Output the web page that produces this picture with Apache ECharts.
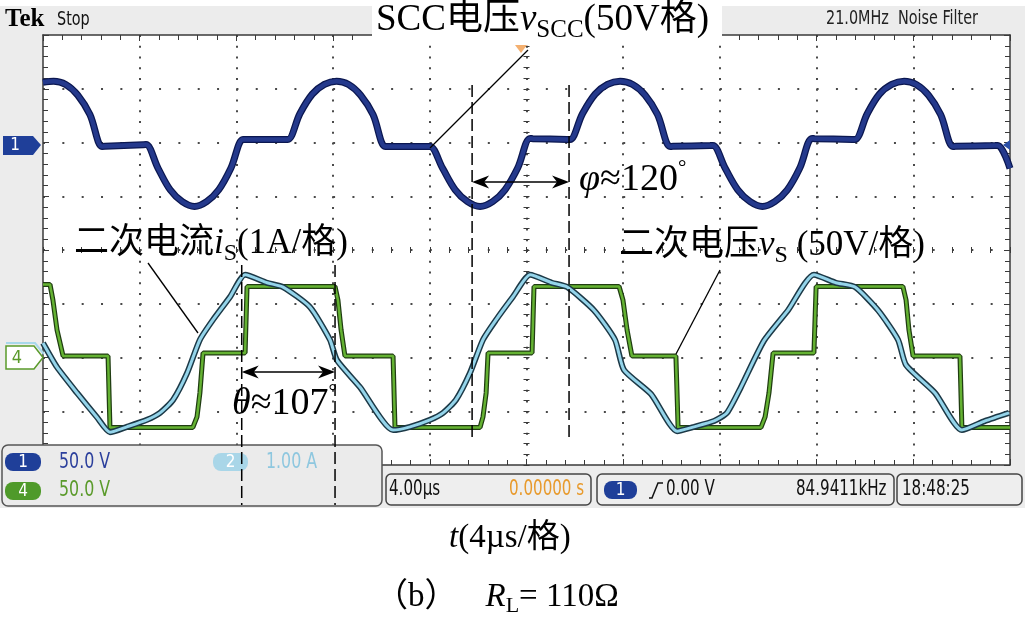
<!DOCTYPE html>
<html><head><meta charset="utf-8">
<script src="https://cdn.jsdelivr.net/npm/echarts@6/dist/echarts.min.js"></script>
<style>
html,body{margin:0;padding:0;background:#fff}
#c{width:1025px;height:617px;background:linear-gradient(#fff 0,#fff 6px,#ececec 6px,#ececec 508px,#fff 508px)}
</style>
</head><body><div id="c"></div>
<script>
// ---- data (time in µs, 4 µs/div) ----
// channel 1: SCC voltage v_SCC (V)
const ch1Time = [0,0.44,0.94,1.44,1.94,2.44,2.56,
  4.14,4.26,4.76,5.26,5.76,6.27,6.77,7.27,7.77,8.27,8.39,
  10.01,10.13,10.63,11.14,11.64,12.14,12.64,13.14,13.65,14.15,14.27,
  15.89,16.01,16.53,17.05,17.56,18.08,18.60,19.11,19.63,20.15,20.27,
  21.68,21.80,22.32,22.84,23.35,23.87,24.39,24.91,25.42,25.94,26.06,
  27.59,27.71,28.22,28.74,29.25,29.76,30.27,30.79,31.30,31.81,31.93,
  33.47,33.59,34.10,34.60,35.11,35.62,36.12,36.63,37.13,37.64,37.76,
  39.38,39.50,40.00];
const ch1Volt = [56,57,54,44,26,-3.7,-3.6,
  -2.0,-1.9,-24,-44,-55,-59.5,-55,-44,-24,2.8,2.8,
  2.8,2.8,27,45,54,57,54,44,26,-3.7,-3.7,
  -3.7,-3.7,-24,-44,-55,-59.5,-55,-44,-24,3.7,3.6,
  2.9,2.8,27,45,54,57,54,44,26,-3.7,-3.6,
  -2.9,-2.8,-24,-44,-55,-59.5,-55,-44,-24,3.7,3.6,
  2.9,2.8,27,45,54,57,54,44,26,-3.7,-3.6,
  -2.9,-2.8,-24];
// channel 2: secondary current i_S (A)
const ch2Time = [0,0.58,1.41,2.23,2.77,3.47,4.30,4.84,5.38,5.96,6.49,7.03,7.74,8.36,9.27,9.93,11.04,11.87,12.16,13.11,14.48,15.18,16.01,16.55,17.08,17.66,18.20,18.74,19.44,20.15,21.05,21.68,22.79,23.66,24.03,25.15,26.23,26.93,27.76,28.29,28.87,29.82,30.82,31.89,32.80,33.59,34.54,35.37,35.70,36.90,38.01,38.97,39.96];
const ch2Amp  = [0.27,-0.18,-0.66,-1.11,-1.39,-1.29,-1.16,-1.03,-0.79,-0.29,0.33,0.70,1.13,1.54,1.39,1.31,0.94,0.33,-0.05,-0.55,-1.35,-1.29,-1.16,-1.03,-0.79,-0.29,0.33,0.70,1.13,1.54,1.39,1.31,0.88,0.33,-0.23,-0.68,-1.37,-1.29,-1.18,-1.03,-0.55,0.31,0.88,1.54,1.39,1.31,0.88,0.33,-0.14,-0.66,-1.35,-1.18,-1.03];
// channel 4: secondary voltage v_S (V)
const ch4Time = [0,0.29,0.41,0.58,0.83,2.69,2.77,6.20,6.37,6.49,6.62,8.36,8.44,12.08,12.20,12.33,12.49,14.48,14.56,18.08,18.20,18.33,18.41,20.23,20.31,23.83,23.99,24.16,24.36,26.18,26.27,29.70,29.87,30.03,30.20,31.89,31.98,35.57,35.70,35.82,35.99,37.93,38.01,40];
const ch4Volt = [68,68,53.5,25.6,1.4,1.4,-65,-65,-55.3,-33.0,4.2,4.2,66,66,53.5,25.6,1.4,1.4,-65,-65,-55.3,-33.0,4.2,4.2,66,66,53.5,25.6,1.4,1.4,-65,-65,-55.3,-33.0,4.2,4.2,66,66,53.5,25.6,1.4,1.4,-65,-65];
// annotation instants (µs)
const thetaTimes = [8.22, 12.08];
const phiTimes = [17.75, 21.76];
// screen readouts
const ch1Scale = '50.0 V', ch2Scale = '1.00 A', ch4Scale = '50.0 V';
const timeBase = '4.00µs', trigDelay = '0.00000 s', trigLevel = '0.00 V', trigFreq = '84.9411kHz', clock = '18:48:25';

const SERIF = '"Liberation Serif","Times New Roman","Noto Sans CJK SC",serif';
const COND = '"Liberation Sans Narrow","DejaVu Sans Condensed","Liberation Sans",sans-serif';
const NARROW = 0.8;

const chart = echarts.init(document.getElementById('c'), null, {renderer: 'canvas'});
const pair = (t, v) => t.map((x, i) => [x, v[i]]);
const tick = {show: true, inside: true, length: 6, lineStyle: {color: '#3a3a3a', width: 1}};
const minor = {show: true, splitNumber: 5, length: 5, lineStyle: {color: '#3a3a3a', width: 1}};
const edge = {show: true, onZero: false, lineStyle: {color: '#3a3a3a', width: 1.5}};
const noLab = {show: false};

chart.setOption({
  animation: false,
  backgroundColor: 'transparent',
  grid: {left: 43, top: 35, width: 967, height: 430, show: true, backgroundColor: '#fff', borderWidth: 0, outerBoundsMode: 'none'},
  xAxis: [
    {type: 'value', min: 0, max: 40, interval: 4, position: 'bottom', axisLine: edge, axisTick: tick, minorTick: minor, axisLabel: noLab,
     splitLine: {show: true, showMinLine: false, showMaxLine: false, lineStyle: {type: [2, 8.75], color: '#4a4a4a', width: 2}}},
    {type: 'value', min: 0, max: 40, interval: 4, position: 'top', axisLine: edge, axisTick: tick, minorTick: minor, axisLabel: noLab, splitLine: {show: false}},
    {type: 'value', min: 0, max: 40, interval: 4, position: 'bottom', offset: -212, axisLine: {show: false, onZero: false}, axisTick: tick,
     minorTick: {show: true, splitNumber: 5, length: 6, lineStyle: {color: '#3a3a3a', width: 1}}, axisLabel: noLab, splitLine: {show: false}}
  ],
  yAxis: [
    {type: 'value', min: -4, max: 4, interval: 1, position: 'left', axisLine: edge, axisTick: tick, minorTick: minor, axisLabel: noLab,
     splitLine: {show: true, showMinLine: false, showMaxLine: false, lineStyle: {type: [2, 17.34], color: '#4a4a4a', width: 2}}},
    {type: 'value', min: -4, max: 4, interval: 1, position: 'right', axisLine: edge, axisTick: tick, minorTick: minor, axisLabel: noLab, splitLine: {show: false}},
    {type: 'value', min: -4, max: 4, interval: 1, position: 'left', offset: -480.5, axisLine: {show: false, onZero: false}, axisTick: tick,
     minorTick: {show: true, splitNumber: 5, length: 6, lineStyle: {color: '#3a3a3a', width: 1}}, axisLabel: noLab, splitLine: {show: false}},
    {type: 'value', min: -300, max: 100, show: false},
    {type: 'value', min: -2, max: 6, show: false},
    {type: 'value', min: -100, max: 300, show: false}
  ],
  series: [
    {type: 'line', yAxisIndex: 5, data: pair(ch4Time, ch4Volt), symbol: 'none', silent: true, z: 3, lineStyle: {color: '#203d12', width: 5}},
    {type: 'line', yAxisIndex: 5, data: pair(ch4Time, ch4Volt), symbol: 'none', silent: true, z: 4, lineStyle: {color: '#64b232', width: 2.5}},
    {type: 'line', yAxisIndex: 4, data: pair(ch2Time, ch2Amp), symbol: 'none', smooth: 0.2, silent: true, z: 5, lineStyle: {color: '#1c3947', width: 6}},
    {type: 'line', yAxisIndex: 4, data: pair(ch2Time, ch2Amp), symbol: 'none', smooth: 0.2, silent: true, z: 6, lineStyle: {color: '#94d4ea', width: 3}},
    {type: 'line', yAxisIndex: 3, data: pair(ch1Time, ch1Volt), symbol: 'none', smooth: 0.35, silent: true, z: 7, lineStyle: {color: '#0b1750', width: 7}},
    {type: 'line', yAxisIndex: 3, data: pair(ch1Time, ch1Volt), symbol: 'none', smooth: 0.35, silent: true, z: 8, lineStyle: {color: '#24398c', width: 4.5}}
  ]
});

const px = t => chart.convertToPixel({xAxisIndex: 0}, t);
const txt = (x, y, text, opt, sx) => ({type: 'text', x, y, z: 50, silent: true, scaleX: sx || 1, style: Object.assign({text, fill: '#000', align: 'left', verticalAlign: 'middle'}, opt)});
const ctxt = (x, y, text, opt) => txt(x, y, text, Object.assign({fontFamily: COND}, opt), NARROW);
const rect = (x, y, w, h, fill, stroke, r, lw) => ({type: 'rect', z: 48, silent: true, shape: {x, y, width: w, height: h, r: r || 0}, style: {fill, stroke: stroke || null, lineWidth: lw || 1}});
const line = (x1, y1, x2, y2, opt) => ({type: 'line', z: 49, silent: true, shape: {x1, y1, x2, y2}, style: Object.assign({stroke: '#000', lineWidth: 1.3}, opt)});
const poly = (pts, fill, stroke, z) => ({type: 'polygon', z: z || 49, silent: true, shape: {points: pts}, style: {fill, stroke: stroke || null, lineWidth: 1.5}});
const head = (x, y, dir) => poly([[x, y], [x - dir * 17, y - 6.5], [x - dir * 12, y], [x - dir * 17, y + 6.5]], '#000', null, 51);
const badge = (x, y, w, label, fill) => [rect(x, y, w, 18, fill, null, 8), {type: 'text', z: 50, silent: true, x: x + w / 2, y: y + 9.5, style: {text: label, fill: '#fff', align: 'center', verticalAlign: 'middle', fontSize: 17, fontFamily: COND}}];

const R = (fs) => ({
  a: {fontSize: fs, fontFamily: SERIF, verticalAlign: 'middle'},
  i: {fontSize: fs, fontFamily: SERIF, fontStyle: 'italic', verticalAlign: 'middle'},
  s: {fontSize: Math.round(fs * 0.68), fontFamily: SERIF, verticalAlign: 'middle', padding: [Math.round(fs * 0.58), 0, 0, 0]},
  d: {fontSize: Math.round(fs * 0.55), fontFamily: SERIF, verticalAlign: 'middle', padding: [0, 0, Math.round(fs * 0.6), 0]}
});

const tx = thetaTimes.map(px), fx = phiTimes.map(px);
const dash = {lineDash: [12, 5], lineWidth: 1.5};
const g = [
  // top bar texts
  txt(5, 20, '{t|Tek}', {rich: {t: {fontSize: 25, fontWeight: 'bold', fontFamily: SERIF}}}),
  ctxt(57, 20, 'Stop', {fontSize: 20, fill: '#111'}),
  ctxt(826, 19, '21.0MHz  Noise Filter', {fontSize: 20, fill: '#222'}),
  rect(372, 0, 350, 41, '#fff'),
  txt(376, 20, '{a|SCC电压}{i|v}{s|SCC}{a|(50V格)}', {rich: R(37)}),
  // trigger marker
  poly([[515, 45], [527, 45], [521, 53]], '#f4b070', null, 48),
  // channel markers
  poly([[3, 136], [33, 136], [41, 145], [33, 155], [3, 155]], '#1f3f99'),
  {type: 'text', z: 50, silent: true, x: 15, y: 146, style: {text: '1', fill: '#fff', fontSize: 17, fontFamily: COND, align: 'center', verticalAlign: 'middle'}},
  poly([[1003, 145], [1010, 140], [1010, 150]], '#2a4fa8'),
  {type: 'polyline', z: 48, silent: true, shape: {points: [[6, 343], [35, 343], [44, 354]]}, style: {stroke: '#a8d8ea', lineWidth: 2, fill: null}},
  poly([[6, 346], [34, 346], [43, 357.5], [34, 369], [6, 369]], '#fff', '#5a9a2a'),
  {type: 'text', z: 50, silent: true, x: 17, y: 358, style: {text: '4', fill: '#5a9a2a', fontSize: 18, fontFamily: COND, align: 'center', verticalAlign: 'middle'}},
  // pointer lines
  line(430, 148, 528, 50),
  line(148, 263, 198, 333),
  line(720, 270, 676, 354),
  // dashed markers
  line(tx[0], 265, tx[0], 505, dash), line(tx[1], 265, tx[1], 505, dash),
  line(fx[0], 85, fx[0], 440, dash), line(fx[1], 85, fx[1], 440, dash),
  // double arrows
  line(tx[0] + 10, 372, tx[1] - 10, 372, {lineWidth: 1.6}), head(tx[0], 372, -1), head(tx[1], 372, 1),
  line(fx[0] + 10, 182, fx[1] - 10, 182, {lineWidth: 1.6}), head(fx[0], 182, -1), head(fx[1], 182, 1),
  // annotation labels
  txt(74, 244, '{a|二次电流}{i|i}{s|S}{a|(1A/格)}', {rich: R(35)}),
  txt(619, 246, '{a|二次电压}{i|v}{s|S}{a| (50V/格)}', {rich: R(35)}),
  txt(579, 180, '{i|φ}{a|≈120}{d|°}', {rich: R(38)}),
  txt(232, 404, '{i|θ}{a|≈107}{d|°}', {rich: R(38)}),
  // captions
  txt(449, 538, '{i|t}{a|(4µs/格)}', {rich: R(33)}),
  txt(375, 597, '{a|（b）}{r|R}{s|L}{a|= 110Ω}', {rich: Object.assign(R(33), {r: {fontSize: 33, fontFamily: SERIF, fontStyle: 'italic', verticalAlign: 'middle', padding: [0, 0, 0, 28]}})}),
  // bottom-left channel panel
  rect(2, 445, 380, 61, '#ebebeb', '#555', 6, 1.5),
  ...badge(5, 453, 36, '1', '#1f3f99'),
  ctxt(59, 462, ch1Scale, {fontSize: 22, fill: '#2b3f9c'}),
  ...badge(213, 453, 35, '2', '#a9d6e8'),
  ctxt(266, 462, ch2Scale, {fontSize: 22, fill: '#8ec7df'}),
  ...badge(5, 482, 36, '4', '#4f9a2a'),
  ctxt(59, 490, ch4Scale, {fontSize: 22, fill: '#5a9a2a'}),
  // horizontal / trigger / clock boxes
  rect(386, 474, 205, 31, '#eeeeee', '#444', 5, 1.5),
  ctxt(389, 490, timeBase, {fontSize: 21, fill: '#111'}),
  ctxt(509, 490, trigDelay, {fontSize: 21, fill: '#e89a2c'}),
  rect(597, 474, 297, 31, '#eeeeee', '#444', 5, 1.5),
  ...badge(604, 481, 33, '1', '#1f3f99'),
  {type: 'polyline', z: 50, silent: true, shape: {points: [[649, 498], [652, 498], [658, 483], [663, 483]]}, style: {stroke: '#111', lineWidth: 1.5, fill: null}},
  ctxt(666, 490, trigLevel, {fontSize: 21, fill: '#111'}),
  ctxt(796, 490, trigFreq, {fontSize: 21, fill: '#111'}),
  rect(897, 474, 125, 31, '#eeeeee', '#444', 5, 1.5),
  ctxt(902, 490, clock, {fontSize: 21, fill: '#111'})
];
chart.setOption({graphic: g});
</script>
</body></html>
